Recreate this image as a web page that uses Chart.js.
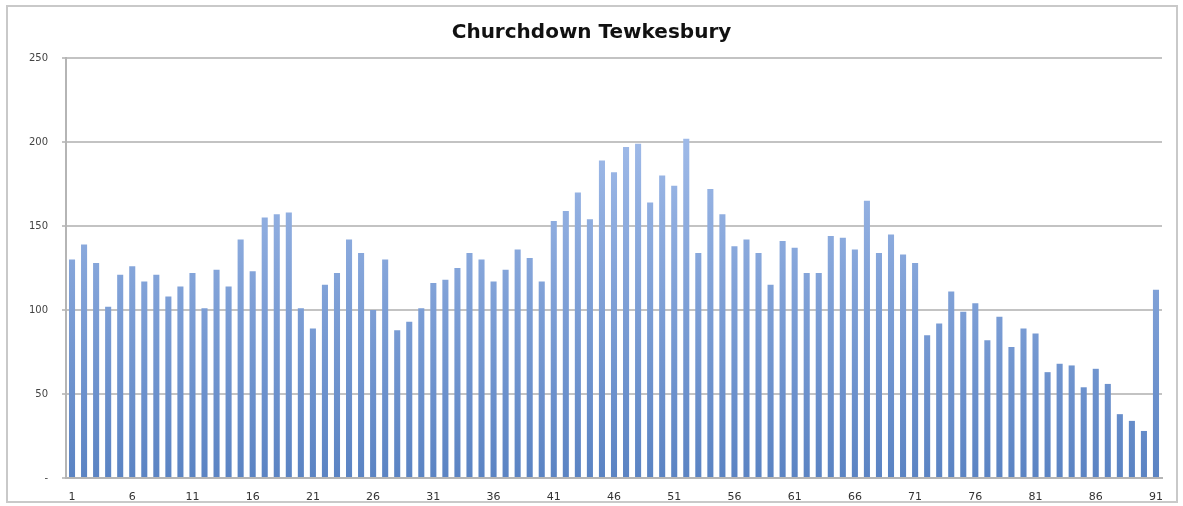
<!DOCTYPE html>
<html>
<head>
<meta charset="utf-8">
<script src="https://cdn.jsdelivr.net/npm/chart.js@4/dist/chart.umd.min.js"></script>
<style>
  html, body { margin: 0; padding: 0; background: #fff; }
  #wrap { width: 1183px; height: 506px; position: relative; }
</style>
</head>
<body>
<div id="wrap"><canvas id="chart"></canvas></div>
<script>
const title = 'Churchdown Tewkesbury';

// days 1..91
const days = Array.from({ length: 91 }, (_, i) => String(i + 1));

const counts = [
  130, 139, 128, 102, 121, 126, 117, 121, 108, 114,
  122, 101, 124, 114, 142, 123, 155, 157, 158, 101,
  89, 115, 122, 142, 134, 100, 130, 88, 93, 101,
  116, 118, 125, 134, 130, 117, 124, 136, 131, 117,
  153, 159, 170, 154, 189, 182, 197, 199, 164, 180,
  174, 202, 134, 172, 157, 138, 142, 134, 115, 141,
  137, 122, 122, 144, 143, 136, 165, 134, 145, 133,
  128, 85, 92, 111, 99, 104, 82, 96, 78, 89,
  86, 63, 68, 67, 54, 65, 56, 38, 34, 28, 112
];

const yTicks = [0, 50, 100, 150, 200, 250];

// outer grey frame round the chart
const framePlugin = {
  id: 'frame',
  afterDraw(chart) {
    const c = chart.ctx;
    c.save();
    c.strokeStyle = '#c9c9c9';
    c.lineWidth = 2;
    c.strokeRect(7, 6, chart.width - 13, chart.height - 10);
    c.restore();
  }
};

const ctx = document.getElementById('chart').getContext('2d');

function barFill(context) {
  const area = context.chart.chartArea;
  if (!area) return '#7a9dd6';
  const g = context.chart.ctx.createLinearGradient(0, area.top + 60, 0, area.bottom);
  g.addColorStop(0, '#a3bdea');
  g.addColorStop(1, '#5a83c3');
  return g;
}

new Chart(ctx, {
  type: 'bar',
  plugins: [framePlugin],
  data: {
    labels: days,
    datasets: [{
      data: counts,
      backgroundColor: barFill,
      borderWidth: 0,
      barPercentage: 0.9,
      categoryPercentage: 0.56
    }]
  },
  options: {
    responsive: true,
    maintainAspectRatio: false,
    animation: false,
    layout: { padding: 0 },
    plugins: {
      legend: { display: false },
      tooltip: { enabled: false },
      title: {
        display: true,
        text: title,
        color: '#111',
        font: { family: 'DejaVu Sans', size: 20, weight: 'bold' },
        padding: { top: 21, bottom: 13 }
      }
    },
    scales: {
      x: {
        grid: { display: false },
        border: { display: true, color: '#b5b5b5', width: 2 },
        ticks: {
          autoSkip: false,
          maxRotation: 0,
          padding: 5,
          color: '#333',
          font: { family: 'DejaVu Sans', size: 11 },
          callback: function (val, i) {
            return i % 5 === 0 ? days[i] : '';
          }
        },
        afterFit(scale) { scale.height = 28; }
      },
      y: {
        min: 0,
        max: 250,
        afterBuildTicks(scale) { scale.ticks = yTicks.map(v => ({ value: v })); },
        grid: {
          color: '#c3c3c3',
          lineWidth: 2,
          tickLength: 4
        },
        border: { display: true, color: '#b5b5b5', width: 2 },
        ticks: {
          padding: 14,
          color: '#444',
          font: { family: 'DejaVu Sans', size: 10 },
          callback: v => v === 0 ? '-' : v
        },
        afterFit(scale) { scale.width = 66; }
      },
      // empty right-hand strip so the title centres on the whole frame
      yRight: {
        position: 'right',
        grid: { display: false },
        border: { display: false },
        ticks: { display: false },
        afterFit(scale) { scale.width = 21; }
      }
    }
  }
});
</script>
</body>
</html>
